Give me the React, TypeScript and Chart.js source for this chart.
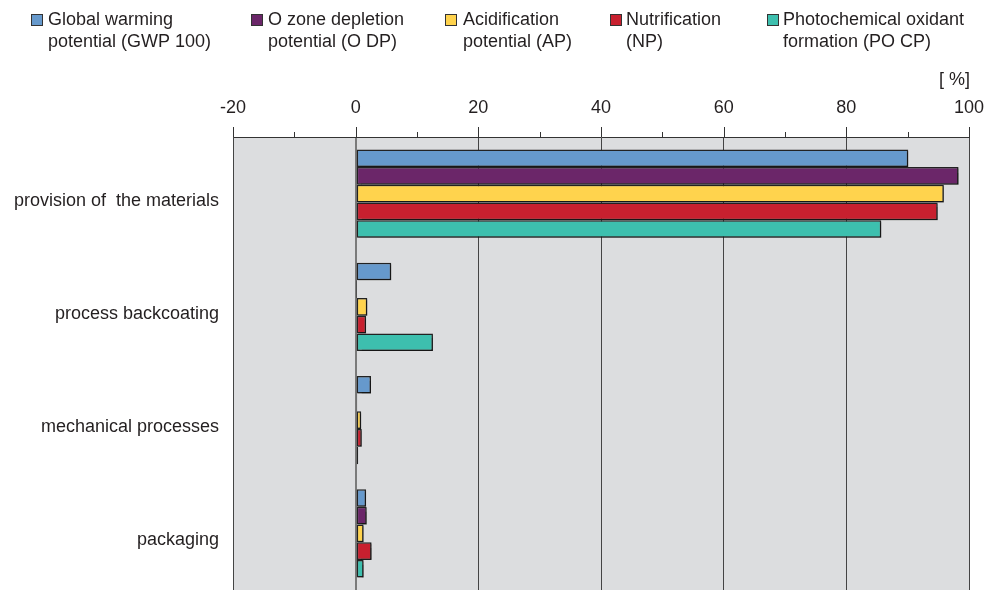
import React, { useEffect, useRef } from "react";
import { Chart, registerables } from "chart.js";

Chart.register(...registerables);

const categories = ["provision of  the materials", "process backcoating", "mechanical processes", "packaging"];
const seriesNames = [
  ["Global warming", "potential (GWP 100)"],
  ["O zone depletion", "potential (O DP)"],
  ["Acidification", "potential (AP)"],
  ["Nutrification", "(NP)"],
  ["Photochemical oxidant", "formation (PO CP)"],
];
const gwp = [90.1, 5.8, 2.5, 1.7];
const odp = [98.3, 0.05, 0.25, 1.8];
const ap = [95.9, 1.9, 0.9, 1.3];
const np = [94.9, 1.7, 1.0, 2.6];
const pocp = [85.7, 12.6, 0.4, 1.3];
const xTicks = [-20, -10, 0, 10, 20, 30, 40, 50, 60, 70, 80, 90, 100];

const colors = ["#6699cc", "#6b2669", "#ffd34d", "#c8202f", "#3dbfae"];
const FONT = "'Liberation Sans', Arial, sans-serif";
const TEXT = "#231f20";

const legendPos = [
  { box: 31, text: 48 },
  { box: 251, text: 268 },
  { box: 445, text: 463 },
  { box: 610, text: 626 },
  { box: 767, text: 783 },
];

const decorPlugin = {
  id: "decor",
  beforeDraw(chart: any) {
    const { ctx, chartArea } = chart;
    ctx.save();
    ctx.fillStyle = "#dcdddf";
    ctx.fillRect(chartArea.left, chartArea.top, chartArea.right - chartArea.left, chartArea.bottom - chartArea.top);
    ctx.restore();
  },
  beforeDatasetsDraw(chart: any) {
    const ctx = chart.ctx;
    ctx.save();
    ctx.shadowColor = "rgba(0,0,0,0.35)";
    ctx.shadowOffsetX = 1.5;
    ctx.shadowOffsetY = 1.5;
    ctx.shadowBlur = 1;
  },
  afterDatasetsDraw(chart: any) {
    chart.ctx.restore();
  },
  afterDraw(chart: any) {
    const { ctx, chartArea } = chart;
    const xs = chart.scales.x;
    ctx.save();
    ctx.strokeStyle = "#333";
    ctx.lineWidth = 1;
    xTicks.forEach((v) => {
      const x = Math.round(xs.getPixelForValue(v)) + 0.5;
      const len = v % 20 === 0 ? 10 : 5;
      ctx.beginPath();
      ctx.moveTo(x, chartArea.top - len);
      ctx.lineTo(x, chartArea.top);
      ctx.stroke();
    });
    ctx.fillStyle = TEXT;
    ctx.font = `18px ${FONT}`;
    ctx.textAlign = "center";
    ctx.textBaseline = "middle";
    xTicks.filter((v) => v % 20 === 0).forEach((v) => {
      ctx.fillText(String(v), xs.getPixelForValue(v), 108);
    });
    ctx.textAlign = "right";
    ctx.fillText("[ %]", chartArea.right + 1, 80);
    ctx.textAlign = "left";
    seriesNames.forEach((lines, i) => {
      const p = legendPos[i];
      ctx.fillStyle = colors[i];
      ctx.fillRect(p.box, 14, 11, 11);
      ctx.strokeStyle = "#333";
      ctx.lineWidth = 1;
      ctx.strokeRect(p.box + 0.5, 14.5, 11, 11);
      ctx.fillStyle = TEXT;
      ctx.fillText(lines[0], p.text, 20);
      ctx.fillText(lines[1], p.text, 42);
    });
    ctx.restore();
  },
};

export default function App() {
  const ref = useRef<HTMLCanvasElement>(null);
  useEffect(() => {
    const seriesData = [gwp, odp, ap, np, pocp];
    const chart = new Chart(ref.current!, {
      type: "bar",
      data: {
        labels: categories,
        datasets: seriesData.map((d, i) => ({
          label: seriesNames[i].join(" "),
          data: d,
          backgroundColor: colors[i],
          borderColor: "#222",
          borderWidth: 1.5,
          borderSkipped: false,
          categoryPercentage: 0.78,
          barPercentage: 1,
        })),
      },
      options: {
        indexAxis: "y",
        animation: false,
        responsive: false,
        maintainAspectRatio: false,
        layout: { padding: { top: 137, right: 28, left: 0, bottom: 0 } },
        plugins: { legend: { display: false }, tooltip: { enabled: false } },
        scales: {
          x: {
            position: "top",
            min: -20,
            max: 100,
            ticks: { display: false, stepSize: 10 },
            grid: {
              drawTicks: false,
              color: (c: any) => {
                const v = c.tick ? c.tick.value : 0;
                if (v === 0) return "#7a7a7a";
                return v % 20 === 0 ? "#444" : "rgba(0,0,0,0)";
              },
              lineWidth: (c: any) => (c.tick && c.tick.value === 0 ? 2 : 1),
            },
            border: { display: true, color: "#333", width: 1 },
            afterFit: (s: any) => {
              s.height = 0;
              s.paddingLeft = 0;
              s.paddingRight = 0;
            },
          },
          y: {
            ticks: {
              color: TEXT,
              font: { family: FONT, size: 18 },
              padding: 14,
              labelOffset: 7,
            },
            grid: { display: false, drawTicks: false },
            border: { display: true, color: "#444", width: 1 },
            afterFit: (s: any) => {
              s.width = 233;
              s.paddingTop = 0;
              s.paddingBottom = 0;
            },
          },
        },
      },
      plugins: [decorPlugin],
    } as any);
    return () => chart.destroy();
  }, []);
  return (
    <div style={{ position: "fixed", left: 0, top: 0, width: 997, height: 590, background: "#fff" }}>
      <canvas ref={ref} width={997} height={590} style={{ width: 997, height: 590 }} />
    </div>
  );
}
